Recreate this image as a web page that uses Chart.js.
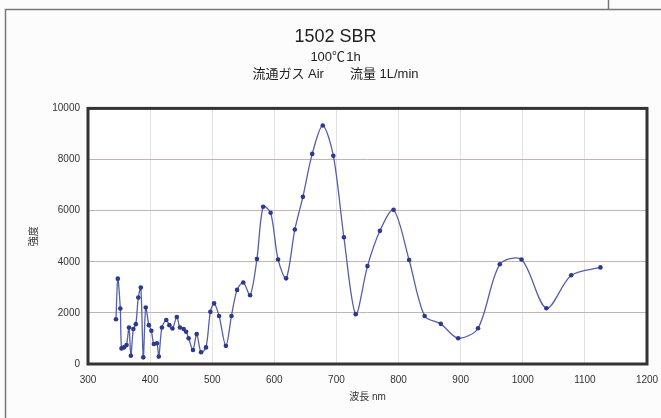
<!DOCTYPE html>
<html>
<head>
<meta charset="utf-8">
<script src="https://cdn.jsdelivr.net/npm/chart.js@4.4.0/dist/chart.umd.min.js"></script>
<style>
  html, body { margin: 0; padding: 0; background: #fcfcfc; }
  #wrap { width: 661px; height: 418px; position: relative; }
</style>
</head>
<body>
<div id="wrap"><canvas id="chart" width="661" height="418"></canvas></div>
<script>
'use strict';
// data
var wavelength = [345,348,352,354,358,362,366,369,373,377,381,385,389,393,398,402,406,411,414,419,
  426,431,436,443,448,454,458,462,469,475,482,490,497,503,511,522,531,540,550,561,
  572,582,594,606,619,633,646,661,678,695,712,731,750,770,792,817,842,868,896,928,
  963,998,1038,1078,1125];
var intensity = [1750,3340,2170,610,650,740,1430,320,1370,1560,2600,2990,260,2210,1520,1300,780,810,290,1430,
  1720,1520,1390,1840,1430,1370,1260,1010,550,1170,460,650,2040,2370,1880,710,1880,2900,3190,2690,
  4110,6150,5920,4090,3350,5260,6540,8220,9330,8150,4960,1950,3830,5210,6030,4070,1880,1570,1010,1400,
  3900,4090,2180,3470,3780];
var titleText = '1502 SBR';
var subTitleLines = ['100\u2103\u200a1h', '流通ガス Air\u3000\u3000流量 1L/min'];
var xTitle = '波長 nm';
var yTitle = '強度';

var points = [];
for (var i = 0; i < wavelength.length; i++) {
  points.push({x: wavelength[i], y: intensity[i]});
}

var fontFamily = "'Liberation Sans Narrow', 'Liberation Sans', 'Noto Sans CJK JP', sans-serif";

// outer frame + thick plot border
var framePlugin = {
  id: 'frame',
  beforeDraw: function(chart) {
    var ctx = chart.ctx;
    var a = chart.chartArea;
    ctx.save();
    ctx.fillStyle = '#ffffff';
    ctx.fillRect(a.left, a.top, a.right - a.left, a.bottom - a.top);
    ctx.strokeStyle = '#777777';
    ctx.lineWidth = 1.5;
    ctx.beginPath();
    ctx.moveTo(5.5, 418);
    ctx.lineTo(5.5, 9.5);
    ctx.lineTo(661, 9.5);
    ctx.moveTo(608.5, 0);
    ctx.lineTo(608.5, 9.5);
    ctx.stroke();
    ctx.restore();
  },
  afterDraw: function(chart) {
    var ctx = chart.ctx;
    var a = chart.chartArea;
    ctx.save();
    ctx.strokeStyle = '#333333';
    ctx.lineWidth = 3;
    ctx.strokeRect(a.left, a.top, a.right - a.left, a.bottom - a.top);
    ctx.restore();
  }
};

var chart = new Chart(document.getElementById('chart').getContext('2d'), {
  type: 'line',
  data: {
    datasets: [{
      data: points,
      borderColor: '#5560a8',
      borderWidth: 1.3,
      backgroundColor: '#2b3a8f',
      pointBackgroundColor: '#2b3a8f',
      pointBorderColor: '#2b3a8f',
      pointRadius: 2.3,
      pointBorderWidth: 0,
      tension: 0.3,
      fill: false
    }]
  },
  options: {
    responsive: false,
    animation: false,
    layout: { padding: { left: 24, right: 14, top: 8, bottom: 6 } },
    plugins: {
      legend: { display: false },
      tooltip: { enabled: false },
      title: {
        display: true,
        text: titleText,
        color: '#222',
        font: { family: fontFamily, size: 18, weight: 'normal' },
        padding: { top: 18, bottom: 0 }
      },
      subtitle: {
        display: true,
        text: subTitleLines,
        color: '#222',
        font: { family: fontFamily, size: 13, weight: 'normal', lineHeight: 1.3 },
        padding: { top: 1, bottom: 26 }
      }
    },
    scales: {
      x: {
        type: 'linear',
        min: 300,
        max: 1200,
        ticks: {
          stepSize: 100, color: '#333', font: { family: fontFamily, size: 10 }, maxRotation: 0, padding: 10,
          callback: function(v) { return String(v); }
        },
        grid: { color: '#e2e2e2', drawTicks: false },
        border: { display: false },
        title: { display: true, text: xTitle, color: '#333', font: { family: fontFamily, size: 10 }, padding: { top: 4, bottom: 9 } },
        afterFit: function(scale) {
          scale.height = 48;
          scale.paddingRight = 0;
          scale.paddingLeft = 0;
        }
      },
      y: {
        min: 0,
        max: 10000,
        ticks: {
          stepSize: 2000, color: '#333', font: { family: fontFamily, size: 10 }, padding: 8,
          callback: function(v) { return String(v); }
        },
        grid: { color: '#c4b4b0', drawTicks: false },
        border: { display: false },
        title: { display: true, text: yTitle, color: '#333', font: { family: fontFamily, size: 10 }, padding: { bottom: 14 } },
        afterFit: function(scale) { scale.width = 64; }
      }
    }
  },
  plugins: [framePlugin]
});
</script>
</body>
</html>
